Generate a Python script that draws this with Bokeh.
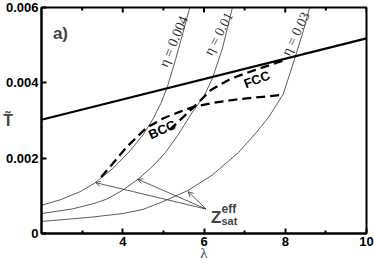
from bokeh.plotting import figure
from bokeh.models import Range1d, FixedTicker, Label, Arrow, OpenHead
from bokeh.core.properties import value
from bokeh.embed import file_html
from bokeh.resources import INLINE
import math

# ---- data ----
lam_eta004 = [2.0, 2.45, 2.95, 3.3, 3.75, 4.15, 4.5, 4.75, 4.95, 5.1, 5.3, 5.5, 5.65]
T_eta004 = [0.00075, 0.00089, 0.00111, 0.00133, 0.00172, 0.00216, 0.00262, 0.00305, 0.00348, 0.0039, 0.00462, 0.0054, 0.0060]

lam_eta01 = [2.0, 2.75, 3.3, 3.6, 4.0, 4.4, 4.75, 5.05, 5.35, 5.7, 6.0, 6.2, 6.45, 6.7]
T_eta01 = [0.00053, 0.00065, 0.0008, 0.00091, 0.00115, 0.00146, 0.0018, 0.00215, 0.0026, 0.0032, 0.00365, 0.0041, 0.0049, 0.0060]

lam_eta03 = [2.0, 3.2, 4.0, 4.5, 5.0, 5.6, 6.2, 6.85, 7.3, 7.6, 7.95, 8.25, 8.45, 8.6]
T_eta03 = [0.00032, 0.00043, 0.00053, 0.00064, 0.00085, 0.00114, 0.00155, 0.00215, 0.0027, 0.0031, 0.0037, 0.0047, 0.0054, 0.0060]

solid_lam = [2.0, 10.0]
solid_T = [0.00302, 0.00518]

dashF_lam = [3.47, 3.75, 4.1, 4.58, 5.0, 5.4, 5.76, 6.3, 6.9, 7.45, 7.93]
dashF_T = [0.0015, 0.00185, 0.0023, 0.0028, 0.00306, 0.00323, 0.00337, 0.00348, 0.00357, 0.00363, 0.00368]

dashS_lam = [5.15, 5.35, 5.76, 6.17, 6.66, 7.23, 7.97]
dashS_T = [0.00275, 0.00295, 0.00337, 0.00381, 0.00411, 0.00433, 0.0046]

eta_texts = ["η = 0.004", "η = 0.01", "η = 0.03"]
eta_text_lam = [5.25, 6.36, 8.26]
eta_text_T = [0.0051, 0.0053, 0.0053]
eta_text_angle_deg = [67, 62, 64]

phase_texts = ["BCC", "FCC"]
phase_text_lam = [4.97, 7.3]
phase_text_T = [0.00276, 0.00409]
phase_text_angle_deg = [24, 21]

arrow_start_lam = 6.05
arrow_start_T = 0.00065
arrow_tip_lam = [3.33, 4.37, 5.61]
arrow_tip_T = [0.00135, 0.00144, 0.00111]

x_ticks = [4, 6, 8, 10]
x_minor_ticks = [3, 5, 7, 9]
y_ticks = [0, 0.002, 0.004, 0.006]
y_tick_labels = ["0", "0.002", "0.004", "0.006"]
x_max = 10
y_max = 0.006

# ---- figure ----
p = figure(width=374, height=263, x_range=Range1d(2, x_max), y_range=Range1d(0, y_max),
           output_backend="svg", toolbar_location=None,
           min_border_left=40, min_border_right=8, min_border_top=7, min_border_bottom=30)
p.grid.visible = False
p.outline_line_color = "black"
p.outline_line_width = 2
p.background_fill_color = "white"
p.border_fill_color = "white"

BOLD = "Liberation Sans"

xa = p.xaxis[0]
xa.ticker = FixedTicker(ticks=x_ticks, minor_ticks=x_minor_ticks)
ya = p.yaxis[0]
ya.ticker = FixedTicker(ticks=y_ticks, minor_ticks=[])
ya.major_label_overrides = {t: l for t, l in zip(y_ticks, y_tick_labels)}

for ax in (xa, ya):
    ax.axis_line_width = 2
    ax.axis_line_color = "black"
    ax.major_tick_in = 5
    ax.major_tick_out = 0
    ax.minor_tick_in = 3
    ax.minor_tick_out = 0
    ax.major_tick_line_width = 2
    ax.minor_tick_line_width = 2
    ax.major_label_text_font = BOLD
    ax.major_label_text_font_style = "bold"
    ax.major_label_text_font_size = "13px"
    ax.major_label_text_color = "black"
    ax.major_label_standoff = 3

xa.axis_label = "λ"
xa.axis_label_text_font = "Liberation Serif"
xa.axis_label_text_font_style = "normal"
xa.axis_label_text_font_size = "15px"
xa.axis_label_standoff = -4

ya.axis_label = "T\u0303"
ya.axis_label_text_font = BOLD
ya.axis_label_text_font_style = "bold"
ya.axis_label_text_font_size = "16px"
try:
    ya.axis_label_orientation = "horizontal"
    ya.axis_label_standoff = -10
except Exception:
    ya.axis_label_standoff = 0

# mirrored ticks on the top edge (half of each marker is clipped by the frame)
p.scatter(x=x_ticks, y=[y_max] * len(x_ticks), marker="dash", angle=math.pi / 2,
          size=10, line_color="black", line_width=2)
p.scatter(x=x_minor_ticks, y=[y_max] * len(x_minor_ticks), marker="dash", angle=math.pi / 2,
          size=6, line_color="black", line_width=2)

# curves
for lx, ty in ((lam_eta004, T_eta004), (lam_eta01, T_eta01), (lam_eta03, T_eta03)):
    p.line(lx, ty, line_color="#333333", line_width=0.8)

p.line(solid_lam, solid_T, line_color="black", line_width=2.3)
p.line(dashF_lam, dashF_T, line_color="black", line_width=2.3, line_dash="9 5")
p.line(dashS_lam, dashS_T, line_color="black", line_width=2.3, line_dash="9 5")

p.text(x=eta_text_lam, y=eta_text_T, text=eta_texts,
       angle=[math.radians(a) for a in eta_text_angle_deg],
       text_font=value("Liberation Serif"), text_font_size="14px", text_color="#333333",
       text_align="center", text_baseline="middle")

p.text(x=phase_text_lam, y=phase_text_T, text=phase_texts,
       angle=[math.radians(a) for a in phase_text_angle_deg],
       text_font=value(BOLD), text_font_style="bold", text_font_size="13px", text_color="black",
       text_align="center", text_baseline="middle")

for tl, tt in zip(arrow_tip_lam, arrow_tip_T):
    p.add_layout(Arrow(end=OpenHead(size=5, line_width=0.8, line_color="#333333"),
                       x_start=arrow_start_lam, y_start=arrow_start_T, x_end=tl, y_end=tt,
                       line_width=0.8, line_color="#333333"))

p.add_layout(Label(x=6.17, y=0.00042, text="Z", text_font=BOLD, text_font_style="bold",
                   text_font_size="17px", text_baseline="alphabetic"))
p.add_layout(Label(x=6.43, y=0.00066, text="eff", text_font=BOLD, text_font_style="bold",
                   text_font_size="12px", text_baseline="alphabetic"))
p.add_layout(Label(x=6.43, y=0.00034, text="sat", text_font=BOLD, text_font_style="bold",
                   text_font_size="11px", text_baseline="alphabetic"))

p.add_layout(Label(x=2.28, y=0.0053, text="a)", text_font=BOLD, text_font_style="bold",
                   text_font_size="17px", text_baseline="alphabetic"))

open("out.html", "w").write(file_html(p, INLINE))
